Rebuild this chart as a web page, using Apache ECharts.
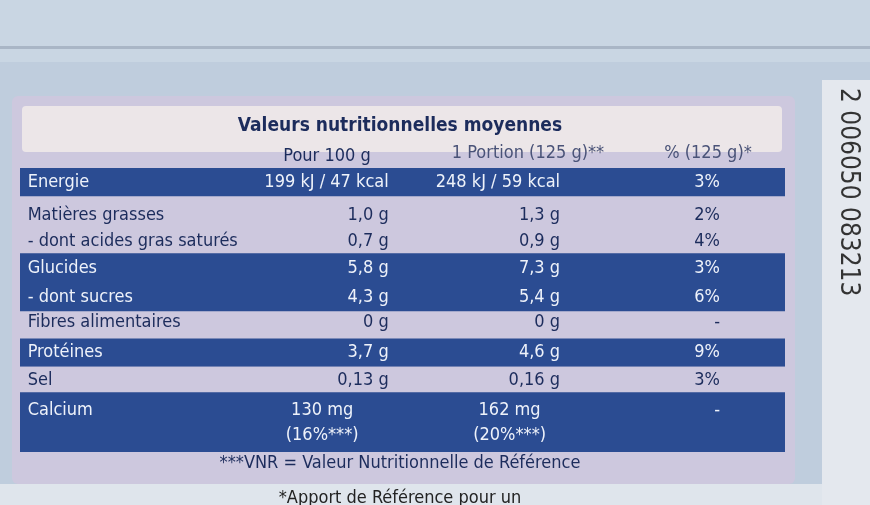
<!DOCTYPE html>
<html lang="fr">
<head>
<meta charset="UTF-8">
<title>Valeurs nutritionnelles moyennes</title>
<script src="https://cdn.jsdelivr.net/npm/echarts@6/dist/echarts.min.js"></script>
<style>html,body{margin:0;padding:0;background:#bfcddd}</style>
</head>
<body>
<div id="main" style="width:870px;height:505px;"></div>
<script>
// lignes du tableau
var rowNames = ['Energie', 'Matières grasses', '- dont acides gras saturés', 'Glucides', '- dont sucres',
    'Fibres alimentaires', 'Protéines', 'Sel', 'Calcium', ''];
var rowPos = [0.5, 1.65, 2.58, 3.53, 4.54, 5.42, 6.48, 7.46, 8.52, 9.4];
var per100 = ['199 kJ / 47 kcal', '1,0 g', '0,7 g', '5,8 g', '4,3 g', '0 g', '3,7 g', '0,13 g', '130 mg', '(16%***)'];
var portion = ['248 kJ / 59 kcal', '1,3 g', '0,9 g', '7,3 g', '5,4 g', '0 g', '4,6 g', '0,16 g', '162 mg', '(20%***)'];
var pctAR = ['3%', '2%', '4%', '3%', '6%', '-', '9%', '3%', '-', ''];
// bandes foncées / claires [début, fin, foncé]
var bands = [[0, 1, 1], [1, 3, 0], [3, 5.05, 1], [5.05, 6, 0], [6, 7, 1], [7, 7.9, 0], [7.9, 10, 1]];

var DARK = '#2b4c92', LIGHT = '#cdc8de', NAVY = '#1c2c5c';
var FONT = "'Liberation Sans Narrow','DejaVu Sans Condensed',sans-serif";

var texts = [];
for (var i = 0; i < rowNames.length; i++) {
    var dark = bands.some(function (b) { return b[2] && rowPos[i] > b[0] && rowPos[i] < b[1]; });
    var calc = i >= 8;
    texts.push([1, rowPos[i], rowNames[i], 'left', dark]);
    texts.push([calc ? 39.5 : 48.2, rowPos[i], per100[i], calc ? 'center' : 'right', dark]);
    texts.push([calc ? 64 : 70.6, rowPos[i], portion[i], calc ? 'center' : 'right', dark]);
    texts.push([91.5, rowPos[i], pctAR[i], 'right', dark]);
}

var myChart = echarts.init(document.getElementById('main'));
myChart.setOption({
    backgroundColor: '#bfcddd',
    animation: false,
    grid: { left: 20, right: 85, top: 168, bottom: 53 },
    xAxis: { type: 'value', min: 0, max: 100, show: false },
    yAxis: { type: 'value', min: 0, max: 10, inverse: true, show: false },
    graphic: [
        { type: 'rect', shape: { x: 0, y: 0, width: 870, height: 62 }, style: { fill: '#c9d6e3' }, z: -20 },
        { type: 'rect', shape: { x: 0, y: 46, width: 870, height: 3 }, style: { fill: '#a9b6c6' }, z: -19 },
        { type: 'rect', shape: { x: 12, y: 96, width: 783, height: 388, r: 6 }, style: { fill: LIGHT }, z: -10 },
        { type: 'rect', shape: { x: 22, y: 106, width: 760, height: 46, r: 4 }, style: { fill: '#ece6e8' }, z: -9 },
        { type: 'text', x: 400, y: 126, style: { text: 'Valeurs nutritionnelles moyennes', font: 'bold 19px ' + FONT, fill: NAVY, align: 'center', verticalAlign: 'middle' } },
        { type: 'text', x: 327, y: 156, style: { text: 'Pour 100 g', font: '18px ' + FONT, fill: NAVY, align: 'center', verticalAlign: 'middle' } },
        { type: 'text', x: 528, y: 153, style: { text: '1 Portion (125 g)**', font: '18px ' + FONT, fill: '#4a5378', align: 'center', verticalAlign: 'middle' } },
        { type: 'text', x: 708, y: 153, style: { text: '% (125 g)*', font: '18px ' + FONT, fill: '#4a5378', align: 'center', verticalAlign: 'middle' } },
        { type: 'text', x: 400, y: 463, style: { text: '***VNR = Valeur Nutritionnelle de Référence', font: '18px ' + FONT, fill: NAVY, align: 'center', verticalAlign: 'middle' } },
        { type: 'rect', shape: { x: 0, y: 484, width: 870, height: 21 }, style: { fill: '#dfe5ec' }, z: -10 },
        { type: 'text', x: 400, y: 498, style: { text: '*Apport de Référence pour un', font: '18px ' + FONT, fill: '#222', align: 'center', verticalAlign: 'middle' } },
        { type: 'rect', shape: { x: 822, y: 80, width: 48, height: 425 }, style: { fill: '#e4e8ee' }, z: -10 },
        { type: 'text', x: 848, y: 88, rotation: -Math.PI / 2, style: { text: '2 006050 083213', font: '26px ' + FONT, fill: '#333', align: 'left', verticalAlign: 'middle' } }
    ],
    series: [{
        type: 'custom',
        data: bands,
        renderItem: function (params, api) {
            var a = api.coord([0, api.value(0)]), b = api.coord([100, api.value(1)]);
            return { type: 'rect', shape: { x: a[0], y: a[1], width: b[0] - a[0], height: b[1] - a[1] },
                style: { fill: api.value(2) ? DARK : LIGHT } };
        }
    }, {
        type: 'custom',
        data: texts,
        z: 5,
        renderItem: function (params, api) {
            var d = texts[params.dataIndex];
            var p = api.coord([d[0], d[1]]);
            return { type: 'text', x: p[0], y: p[1],
                style: { text: d[2], font: '18px ' + FONT, fill: d[4] ? '#eef2fa' : NAVY, align: d[3], verticalAlign: 'middle' } };
        }
    }]
});
</script>
</body>
</html>
